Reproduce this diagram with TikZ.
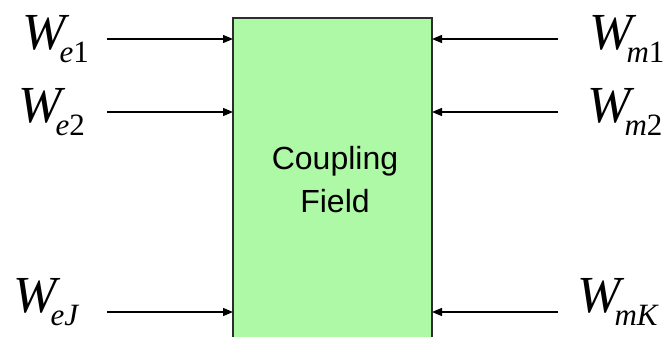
\documentclass[tikz,border=0pt]{standalone}
\usepackage{fontspec}
\setmainfont{Liberation Serif}
\newfontfamily\arialfont{Liberation Sans}
\usepackage{xcolor}
\usetikzlibrary{calc,arrows.meta}

\definecolor{fieldgreen}{RGB}{174,249,166}
\definecolor{edgegray}{RGB}{45,45,45}

% W with a subscript (italic part, upright part)
\newcommand{\wlab}[2]{{\fontsize{52}{56}\selectfont\itshape W}\kern-6pt\raisebox{-13pt}{\fontsize{31}{34}\selectfont\itshape #1\upshape #2}}

\tikzset{
  energy/.style={anchor=base west,inner sep=0pt},
  flow/.style={line width=1.3pt,-{Triangle[length=10pt,width=8pt]}}
}

\begin{document}
\begin{tikzpicture}[x=1pt,y=-1pt]
  \clip (0,0) rectangle (665,337);
  \useasboundingbox (0,0) rectangle (665,337);

  % Coupling field block (runs off the bottom)
  \draw[fill=fieldgreen,draw=edgegray,line width=1.5pt] (233,18) rectangle (432,360);
  \coordinate (BL) at (233,0); % left side of block
  \coordinate (BR) at (432,0); % right side of block
  \node[font={\arialfont\fontsize{32}{43}\selectfont},align=center,inner sep=0pt] (cf) at (335,180)
    {Coupling\\Field};

  % Electrical inputs
  \node[energy] (e1) at (22,50) {\wlab{e}{1}};
  \node[energy] (e2) at (18,123) {\wlab{e}{2}};
  \node[energy] (eJ) at (13,312) {\wlab{eJ}{}};
  \coordinate (s1) at (107,39);
  \coordinate (s2) at (107,112);
  \coordinate (sJ) at (107,312);

  % Mechanical inputs
  \node[energy] (m1) at (589,50) {\wlab{m}{1}};
  \node[energy] (m2) at (587,123) {\wlab{m}{2}};
  \node[energy] (mK) at (577,312) {\wlab{mK}{}};
  \coordinate (t1) at (558,39);
  \coordinate (t2) at (558,112);
  \coordinate (tK) at (558,312);

  % Draw arrows into the block
  \foreach \s in {s1,s2,sJ}
    \draw[flow] (\s) -- (\s -| BL);
  \foreach \t in {t1,t2,tK}
    \draw[flow] (\t) -- (\t -| BR);

\end{tikzpicture}
\end{document}
